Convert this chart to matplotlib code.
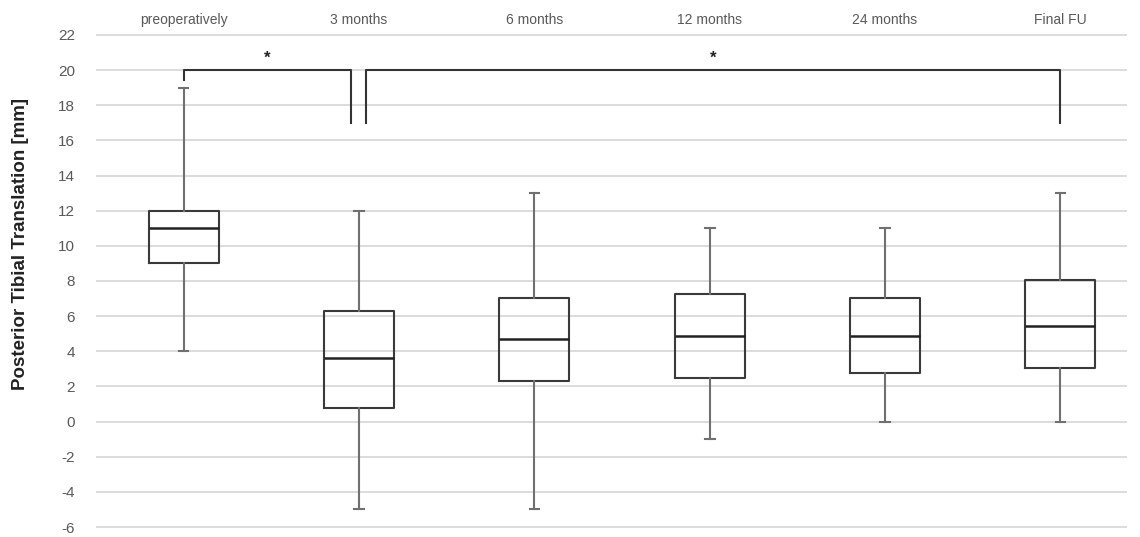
import matplotlib.pyplot as plt

plt.rcParams['font.family'] = ['Liberation Sans', 'DejaVu Sans']
plt.rcParams['axes.unicode_minus'] = False

labels = ['preoperatively', '3 months', '6 months', '12 months', '24 months', 'Final FU']
whislo = [4, -5, -5, -1, 0, 0]
q1 = [9, 0.77, 2.29, 2.46, 2.78, 3.03]
med = [11, 3.6, 4.68, 4.87, 4.87, 5.43]
q3 = [12, 6.29, 7.05, 7.24, 7.05, 8.04]
whishi = [19, 12, 13, 11, 11, 13]

# significance brackets: (x start, x end, y top, left tip, right tip)
brackets = [(0, 0.955, 20, 19.45, 17), (1.04, 5, 20, 17, 17)]
star_y = 20.7

stats = []
for i in range(len(labels)):
    stats.append(dict(label=labels[i], whislo=whislo[i], q1=q1[i], med=med[i],
                      q3=q3[i], whishi=whishi[i], fliers=[]))

fig = plt.figure(figsize=(11.4, 5.37), dpi=100)
ax = fig.add_axes([96 / 1140, (537 - 532.3) / 537, 1031 / 1140, 502.6 / 537])

box_c = '#3a3a3a'
wh_c = '#707070'
ax.bxp(stats, positions=range(len(labels)), widths=0.4, showfliers=False,
       boxprops=dict(color=box_c, linewidth=1.5),
       medianprops=dict(color='#222222', linewidth=1.8),
       whiskerprops=dict(color=wh_c, linewidth=1.5),
       capprops=dict(color=wh_c, linewidth=1.5),
       capwidths=0.055)

for x0, x1, yt, yl, yr in brackets:
    ax.plot([x0, x0, x1, x1], [yl, yt, yt, yr], color='#333333', lw=1.5)
    ax.text((x0 + x1) / 2, star_y, '*', ha='center', va='center', fontsize=12,
            fontweight='bold', color='#222222')

ax.set_xlim(-0.5, 5.38)
ax.set_ylim(-6.3, 22.3)
ax.set_yticks(range(-6, 23, 2))
ax.yaxis.grid(True, color='#d9d9d9', linewidth=1.3)
ax.set_axisbelow(True)
ax.xaxis.tick_top()
ax.set_xticks(range(len(labels)))
ax.set_xticklabels(labels)
ax.tick_params(axis='x', length=0, pad=2, labelsize=10, labelcolor='#595959')
ax.tick_params(axis='y', length=0, pad=15, labelsize=11, labelcolor='#595959')
for s in ax.spines.values():
    s.set_visible(False)

fig.text(21 / 1140, (537 - 244) / 537, 'Posterior Tibial Translation [mm]',
         rotation=90, ha='center', va='center', fontsize=13.5, fontweight='bold',
         color='#222222')

fig.savefig('out.png', dpi=100)
